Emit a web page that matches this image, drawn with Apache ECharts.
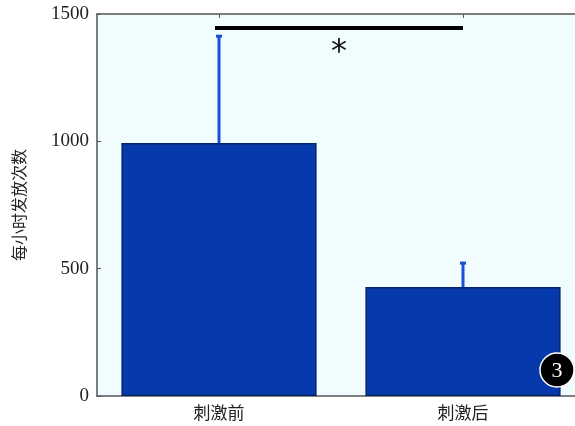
<!DOCTYPE html>
<html>
<head>
<meta charset="utf-8">
<script src="https://cdn.jsdelivr.net/npm/echarts@6/dist/echarts.min.js"></script>
<style>
  html, body { margin: 0; padding: 0; background: #fff; }
  #main { width: 575px; height: 426px; }
</style>
</head>
<body>
<div id="main"></div>
<script>
const categories = ['刺激前', '刺激后'];
const means = [993, 428];
const errTops = [1413, 522];
const yTicks = [0, 500, 1000, 1500];
const sigPair = [0, 1];
const sigLevel = 1445;
const sigMark = '*';

const chart = echarts.init(document.getElementById('main'));

const option = {
  animation: false,
  backgroundColor: '#fff',
  grid: {
    left: 97, width: 488, top: 14, height: 382,
    outerBoundsMode: 'none',
    show: true,
    backgroundColor: '#f0fcfd',
    borderWidth: 0
  },
  xAxis: [
    {
      type: 'category',
      data: categories,
      axisLine: { lineStyle: { color: '#555', width: 1.5 } },
      axisTick: { show: false },
      axisLabel: {
        color: '#222', fontSize: 17, margin: 8,
        fontFamily: 'Noto Sans CJK SC'
      }
    },
    {
      type: 'category',
      data: categories,
      position: 'top',
      axisLine: { lineStyle: { color: '#555', width: 1.5 } },
      axisTick: { show: true, inside: true, alignWithLabel: true, length: 4, lineStyle: { color: '#555' } },
      axisLabel: { show: false }
    }
  ],
  yAxis: {
    type: 'value',
    min: 0, max: 1500, interval: 500,
    axisLine: { show: true, lineStyle: { color: '#555', width: 1.5 } },
    axisTick: { show: true, inside: true, length: 4, lineStyle: { color: '#555' } },
    splitLine: { show: false },
    axisLabel: {
      color: '#222', fontSize: 19, margin: 8,
      fontFamily: 'Liberation Serif',
      formatter: v => yTicks.includes(v) ? String(v) : ''
    },
    name: '每小时发放次数',
    nameLocation: 'middle',
    nameGap: 70,
    nameRotate: 90,
    nameTextStyle: { color: '#222', fontSize: 16, fontFamily: 'Noto Sans CJK SC' }
  },
  series: [
    {
      type: 'bar',
      data: means,
      barWidth: '80%',
      itemStyle: { color: '#0639ac', borderColor: '#05246e', borderWidth: 1.5 },
      z: 2
    },
    {
      type: 'custom',
      data: means.map((m, i) => [i, m, errTops[i]]),
      renderItem: (params, api) => {
        const base = api.coord([api.value(0), api.value(1)]);
        const top = api.coord([api.value(0), api.value(2)]);
        const cap = 3;
        return {
          type: 'group',
          children: [
            { type: 'line', shape: { x1: base[0], y1: base[1], x2: top[0], y2: top[1] },
              style: { stroke: '#1a50d6', lineWidth: 3 } },
            { type: 'line', shape: { x1: top[0] - cap, y1: top[1], x2: top[0] + cap, y2: top[1] },
              style: { stroke: '#1a50d6', lineWidth: 3 } }
          ]
        };
      },
      z: 5
    },
    {
      type: 'custom',
      data: [[sigPair[0], sigPair[1], sigLevel]],
      renderItem: (params, api) => {
        const a = api.coord([api.value(0), api.value(2)]);
        const b = api.coord([api.value(1), api.value(2)]);
        return {
          type: 'group',
          children: [
            { type: 'line', shape: { x1: a[0] - 4, y1: a[1], x2: b[0], y2: b[1] },
              style: { stroke: '#000', lineWidth: 4 } },
            { type: 'text', x: (a[0] + b[0]) / 2 - 2, y: a[1] + 25,
              style: { text: sigMark, fill: '#111', fontSize: 32, fontFamily: 'DejaVu Sans',
                       align: 'center', verticalAlign: 'middle' } }
          ]
        };
      },
      z: 6
    }
  ],
  graphic: [
    {
      type: 'circle', shape: { cx: 557, cy: 370, r: 17 },
      style: { fill: '#000', stroke: '#fff', lineWidth: 1.5 }, z: 10
    },
    {
      type: 'text', x: 557, y: 371,
      style: { text: '3', fill: '#fff', fontSize: 22, fontFamily: 'Liberation Serif',
               align: 'center', verticalAlign: 'middle' }, z: 11
    }
  ]
};

chart.setOption(option);
</script>
</body>
</html>
